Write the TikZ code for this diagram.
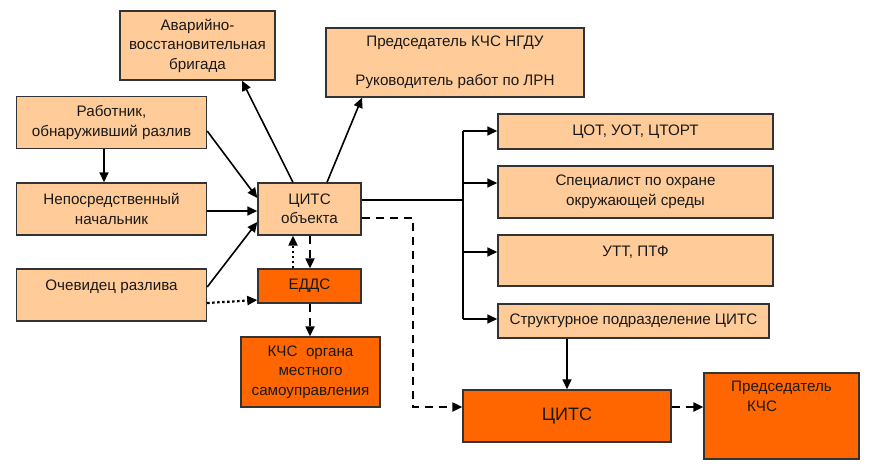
\documentclass[tikz,border=0pt]{standalone}
\usepackage{fontspec}
\setmainfont{Liberation Sans}
\usetikzlibrary{arrows.meta}
\definecolor{peach}{HTML}{FFCC99}
\definecolor{dorange}{HTML}{FF6600}
\definecolor{edge}{HTML}{333333}
\begin{document}
\begin{tikzpicture}[x=1pt,y=-1pt,
  box/.style={draw=edge,line width=1.4pt,inner sep=0pt,align=center,text=black!90,font=\fontsize{15.2}{19.5}\selectfont},
  lbox/.style={box,fill=peach},
  obox/.style={box,fill=dorange},
  arr/.style={line width=1.6pt,-{Triangle[length=10pt,width=9pt]}},
  dsh/.style={line width=2.2pt,dash pattern=on 8pt off 6pt,-{Triangle[length=10pt,width=9pt]}},
  dot/.style={line width=2.2pt,dash pattern=on 2.5pt off 2.5pt,-{Triangle[length=10pt,width=9pt]}},
  ln/.style={line width=1.6pt}]
\useasboundingbox (0,0) rectangle (870,465);
\node[lbox,minimum width=155pt,minimum height=69pt] (avb) at (197.5,45.5) {Аварийно-\\восстановительная\\бригада};
\node[lbox,minimum width=258pt,minimum height=69pt] (pred) at (455,62.5) {Председатель КЧС НГДУ\\\mbox{}\\Руководитель работ по ЛРН};
\node[lbox,minimum width=190pt,minimum height=52pt] (rab) at (111.5,122.5) {Работник,\\обнаруживший разлив};
\node[lbox,minimum width=190pt,minimum height=52pt] (nep) at (111.5,209) {Непосредственный\\начальник};
\node[lbox,minimum width=103pt,minimum height=52pt] (cobj) at (309.5,209) {ЦИТС\\объекта};
\node[lbox,minimum width=190pt,minimum height=52pt] (och) at (111.5,295) {Очевидец разлива\\\mbox{}};
\node[obox,minimum width=103pt,minimum height=34pt] (edds) at (309.5,286) {ЕДДС};
\node[obox,minimum width=139pt,minimum height=70pt] (kchs) at (310.5,372) {КЧС\ \ органа\\местного\\самоуправления};
\node[lbox,minimum width=275pt,minimum height=35pt] (cot) at (635.5,131.5) {ЦОТ, УОТ, ЦТОРТ};
\node[lbox,minimum width=275pt,minimum height=52pt] (spec) at (635.5,192) {Специалист по охране\\окружающей среды};
\node[lbox,minimum width=275pt,minimum height=51pt] (utt) at (635.5,260.5) {УТТ, ПТФ\\\mbox{}};
\node[lbox,minimum width=271pt,minimum height=34pt] (str) at (633.5,321) {Структурное подразделение ЦИТС};
\node[obox,minimum width=208pt,minimum height=52pt,font=\fontsize{18}{22}\selectfont] (cits) at (567,416) {ЦИТС};
\node[obox,minimum width=155pt,minimum height=86pt] (predk) at (781.5,416) {Председатель\\КЧС\rule{39pt}{0pt}\\\mbox{}\\\mbox{}};
\coordinate (bt) at (463,131);
\coordinate (bb) at (463,319);
\coordinate (dc) at (413,407);
% left inputs
\draw[arr] ([xshift=-7.5pt]rab.south) -- ([xshift=-7.5pt]nep.north);
\draw[arr] ([yshift=-8.5pt]rab.east) -- ([yshift=11pt]cobj.west);
\draw[arr] ([yshift=-2pt]nep.east) -- ([yshift=-2pt]cobj.west);
\draw[arr] ([yshift=8pt]och.east) -- ([yshift=-13pt]cobj.west);
\draw[dot] ([yshift=-8pt]och.east) -- ([yshift=-14pt]edds.west);
% up
\draw[arr] ([xshift=-16.5pt]cobj.north) -- ([xshift=44.5pt]avb.south);
\draw[arr] ([xshift=17.5pt]cobj.north) -- ([xshift=-93pt]pred.south);
% edds
\draw[dot] ([xshift=-16.5pt]edds.north) -- ([xshift=-16.5pt]cobj.south);
\draw[dsh] ([xshift=0.5pt]cobj.south) -- ([xshift=0.5pt]edds.north);
\draw[dsh] ([xshift=0.5pt]edds.south) -- ([xshift=0.5pt]edds.south |- kchs.north);
% bus
\draw[ln] ([yshift=9pt]cobj.east) -- ([yshift=9pt]cobj.east -| bt);
\draw[ln] (bt) -- (bb);
\draw[arr] (bt) -- (bt -| cot.west);
\draw[arr] ([yshift=9pt]spec.west -| bt) -- ([yshift=9pt]spec.west);
\draw[arr] ([yshift=8.5pt]utt.west -| bt) -- ([yshift=8.5pt]utt.west);
\draw[arr] (bb) -- (bb -| str.west);
% bottom
\draw[dsh] ([yshift=-9pt]cobj.east) -| (dc) -- (dc -| cits.west);
\draw[arr] (str.south -| cits.north) -- (cits.north);
\draw[dsh] ([yshift=9pt]cits.east) -- ([yshift=9pt]predk.west);
\end{tikzpicture}
\end{document}
